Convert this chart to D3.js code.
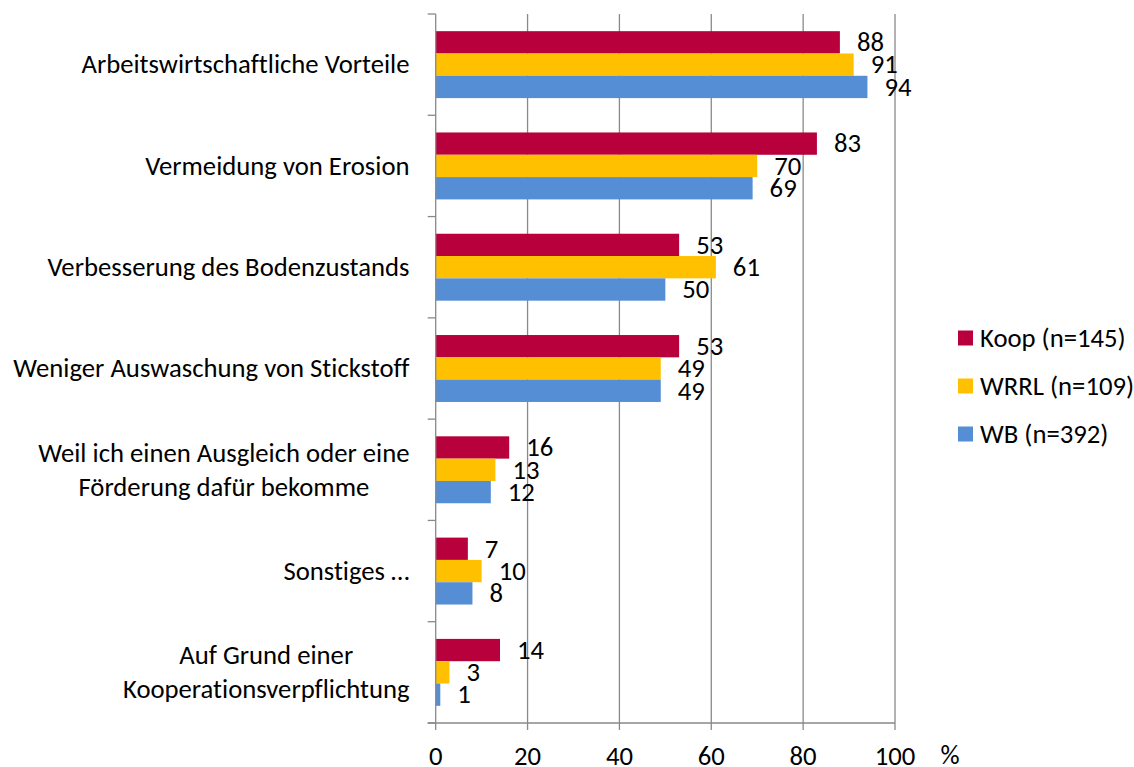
<!DOCTYPE html>
<html>
<head>
<meta charset="utf-8">
<script src="https://cdn.jsdelivr.net/npm/d3@7"></script>
<style>
  body { margin: 0; background: #fff; }
  text { font-family: Carlito, Calibri, Lato, sans-serif; fill: #000; font-variant-ligatures: none; }
</style>
</head>
<body>
<div id="chart"></div>
<script>
// categories (top to bottom), each label split in lines
const categories = [
  ['Arbeitswirtschaftliche Vorteile'],
  ['Vermeidung von Erosion'],
  ['Verbesserung des Bodenzustands'],
  ['Weniger Auswaschung von Stickstoff'],
  ['Weil ich einen Ausgleich oder eine', 'Förderung dafür bekomme'],
  ['Sonstiges …'],
  ['Auf Grund einer', 'Kooperationsverpflichtung']
]
const seriesNames = ['Koop (n=145)', 'WRRL (n=109)', 'WB (n=392)']
const koop = [88, 83, 53, 53, 16, 7, 14]
const wrrl = [91, 70, 61, 49, 13, 10, 3]
const wb = [94, 69, 50, 49, 12, 8, 1]
const xTicks = [0, 20, 40, 60, 80, 100]
const colors = ['#b7003c', '#ffc000', '#558ed5']

const width = 1134,
  height = 767,
  fontSize = 26.7

let svg = d3.select('#chart')
  .append('svg')
  .attr('width', width)
  .attr('height', height)

const values = [koop, wrrl, wb]

// Titik X
const xScale = d3.scaleLinear()
  .domain([0, 100])
  .range([435.7, 895])

// Titik Y per kategori
const yScale = d3.scaleBand()
  .domain(d3.range(categories.length))
  .range([14, 723])

// bar di dalam kategori
const ySub = d3.scaleBand()
  .domain(d3.range(seriesNames.length))
  .range([0, yScale.bandwidth()])
  .paddingOuter(0.77)

const gridColor = '#898989'

// garis grid vertikal
svg.selectAll('line.grid')
  .data(xTicks.slice(1))
  .enter()
  .append('line')
  .attr('class', 'grid')
  .attr('x1', d => xScale(d))
  .attr('x2', d => xScale(d))
  .attr('y1', yScale.range()[0])
  .attr('y2', yScale.range()[1] + 7)
  .attr('stroke', gridColor)
  .attr('stroke-width', 1.3)

// bars
values.forEach((vals, s) => {
  svg.selectAll('rect.s' + s)
    .data(vals)
    .enter()
    .append('rect')
    .attr('class', 's' + s)
    .attr('x', xScale(0))
    .attr('y', (d, i) => yScale(i) + ySub(s))
    .attr('width', d => xScale(d) - xScale(0))
    .attr('height', ySub.bandwidth())
    .attr('fill', colors[s])

  svg.selectAll('text.v' + s)
    .data(vals)
    .enter()
    .append('text')
    .attr('class', 'v' + s)
    .attr('x', d => xScale(d) + 17)
    .attr('y', (d, i) => yScale(i) + ySub(s) + ySub.bandwidth() / 2)
    .attr('dy', '0.33em')
    .attr('font-size', fontSize)
    .text(d => d)
})

// sumbu Y: garis + tick di batas kategori
const yAxis = svg.append('g')
yAxis.append('line')
  .attr('x1', xScale(0)).attr('x2', xScale(0))
  .attr('y1', yScale.range()[0]).attr('y2', yScale.range()[1] + 7)
  .attr('stroke', gridColor).attr('stroke-width', 1.3)
yAxis.selectAll('line.yt')
  .data(d3.range(categories.length + 1))
  .enter()
  .append('line')
  .attr('class', 'yt')
  .attr('x1', xScale(0) - 8).attr('x2', xScale(0))
  .attr('y1', d => yScale.range()[0] + d * yScale.step())
  .attr('y2', d => yScale.range()[0] + d * yScale.step())
  .attr('stroke', gridColor).attr('stroke-width', 1.3)

// sumbu X
svg.append('line')
  .attr('x1', xScale(0) - 8).attr('x2', xScale(100))
  .attr('y1', yScale.range()[1]).attr('y2', yScale.range()[1])
  .attr('stroke', gridColor).attr('stroke-width', 1.3)

svg.selectAll('text.xt')
  .data(xTicks)
  .enter()
  .append('text')
  .attr('class', 'xt')
  .attr('x', d => xScale(d))
  .attr('y', yScale.range()[1] + 33)
  .attr('dy', '0.33em')
  .attr('text-anchor', 'middle')
  .attr('font-size', fontSize)
  .text(d => d)

svg.append('text')
  .attr('x', xScale(100) + 55)
  .attr('y', yScale.range()[1] + 32)
  .attr('dy', '0.33em')
  .attr('text-anchor', 'middle')
  .attr('font-size', fontSize)
  .text('%')

// label kategori (baris rata tengah, blok rata kanan)
const labelRight = 409.5,
  lineGap = 34
categories.forEach((lines, i) => {
  let g = svg.append('g')
  let cy = yScale(i) + yScale.bandwidth() / 2
  let texts = lines.map((ln, j) => g.append('text')
    .attr('y', cy + (j - (lines.length - 1) / 2) * lineGap)
    .attr('dy', '0.33em')
    .attr('text-anchor', 'middle')
    .attr('font-size', fontSize)
    .text(ln))
  let w = d3.max(texts, t => t.node().getComputedTextLength())
  texts.forEach(t => t.attr('x', labelRight - w / 2))
})

// legend
const legend = svg.selectAll('g.legend')
  .data(seriesNames)
  .enter()
  .append('g')
  .attr('class', 'legend')
  .attr('transform', (d, i) => `translate(958, ${338 + i * 48})`)
legend.append('rect')
  .attr('x', 0).attr('y', -7.5)
  .attr('width', 15).attr('height', 15)
  .attr('fill', (d, i) => colors[i])
legend.append('text')
  .attr('x', 22)
  .attr('dy', '0.33em')
  .attr('font-size', fontSize)
  .text(d => d)
</script>
</body>
</html>
